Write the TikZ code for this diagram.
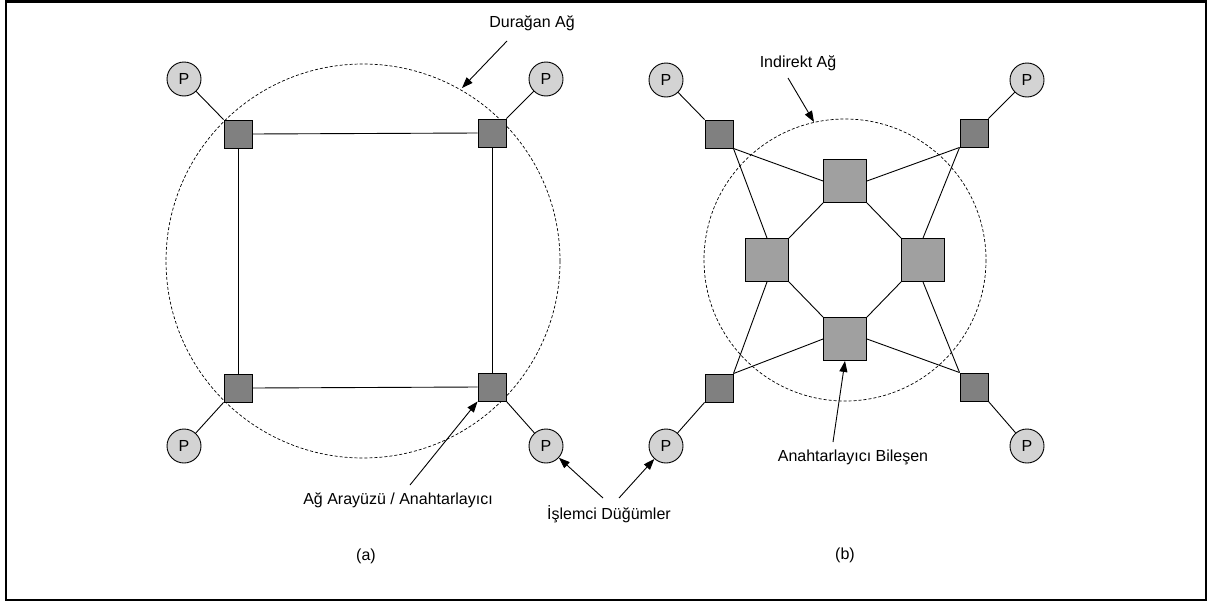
\documentclass[tikz,border=0pt]{standalone}
\usepackage{fontspec}
\setmainfont{Liberation Sans}
\usetikzlibrary{arrows.meta}
\definecolor{ifacegray}{HTML}{808080}
\definecolor{switchgray}{HTML}{A0A0A0}
\definecolor{procgray}{HTML}{D3D3D3}
\begin{document}
\begin{tikzpicture}[x=1pt,y=-1pt,
  every node/.style={font=\fontsize{16}{19}\selectfont},
  iface/.style={draw,line width=0.9pt,fill=ifacegray,minimum size=28pt,inner sep=0pt},
  switchbox/.style={draw,line width=0.9pt,fill=switchgray,minimum size=43pt,inner sep=0pt},
  proc/.style={draw,circle,line width=0.9pt,fill=procgray,minimum size=34pt,inner sep=0pt},
  link/.style={line width=0.9pt},
  ring/.style={dashed,dash pattern=on 3pt off 2pt,line width=0.7pt},
  callout/.style={line width=0.9pt,-{Triangle[length=11pt,width=8pt]}},
  caption/.style={inner sep=0pt}]
\useasboundingbox (0,0) rectangle (1214,605);
\draw[line width=2.5pt] (6,1.5) rectangle (1206,600);

% ---------- (a) direct network ----------
\draw[ring] (363,261) circle[radius=197];
\node[iface] (aS1) at (238,134) {};
\node[iface] (aS2) at (492,133) {};
\node[iface] (aS3) at (238,388) {};
\node[iface] (aS4) at (492,387) {};
\node[proc] (aP1) at (184,79) {P};
\node[proc] (aP2) at (546,79) {P};
\node[proc] (aP3) at (184,446) {P};
\node[proc] (aP4) at (546,446) {P};
\draw[link] (aS1.east) -- (aS2.west);
\draw[link] (aS3.east) -- (aS4.west);
\draw[link] (aS1.south) -- (aS3.north);
\draw[link] (aS2.south) -- (aS4.north);
\draw[link] (aP1) -- (aS1.north west);
\draw[link] (aP2) -- (aS2.north east);
\draw[link] (aP3) -- (aS3.south west);
\draw[link] (aP4) -- (aS4.south east);

% ---------- (b) indirect network ----------
\draw[ring] (845,260) circle[radius=141];
\node[iface] (bS1) at (719,134) {};
\node[iface] (bS2) at (974,133) {};
\node[iface] (bS3) at (719,388) {};
\node[iface] (bS4) at (974,387) {};
\node[switchbox] (bT) at (845,181) {};
\node[switchbox] (bL) at (767,260) {};
\node[switchbox] (bR) at (923,260) {};
\node[switchbox] (bB) at (845,339) {};
\node[proc] (bP1) at (666,80) {P};
\node[proc] (bP2) at (1027,80) {P};
\node[proc] (bP3) at (666,446) {P};
\node[proc] (bP4) at (1027,446) {P};
\draw[link] (bP1) -- (bS1.north west);
\draw[link] (bP2) -- (bS2.north east);
\draw[link] (bP3) -- (bS3.south west);
\draw[link] (bP4) -- (bS4.south east);
\draw[link] (bS1.south east) -- (bT.west);
\draw[link] (bS1.south east) -- (bL.north);
\draw[link] (bS2.south west) -- (bT.east);
\draw[link] (bS2.south west) -- (bR.north);
\draw[link] (bS3.north east) -- (bB.west);
\draw[link] (bS3.north east) -- (bL.south);
\draw[link] (bS4.north west) -- (bB.east);
\draw[link] (bS4.north west) -- (bR.south);
\draw[link] (bT.south west) -- (bL.north east);
\draw[link] (bT.south east) -- (bR.north west);
\draw[link] (bB.north west) -- (bL.south east);
\draw[link] (bB.north east) -- (bR.south west);

% ---------- labels and callouts ----------
\node[caption] (lDur) at (532,23) {Durağan Ağ};
\coordinate (cDur) at (507,41);
\coordinate (tDur) at (462,88);
\draw[callout] (cDur) -- (tDur);

\node[caption] (lInd) at (798,63) {Indirekt Ağ};
\coordinate (cInd) at (788,78);
\coordinate (tInd) at (814,122);
\draw[callout] (cInd) -- (tInd);

\node[caption] (lIface) at (398,500) {Ağ Arayüzü / Anahtarlayıcı};
\coordinate (cIface) at (410,485);
\draw[callout] (cIface) -- (aS4.south west);

\node[caption] (lProc) at (609,514) {İşlemci Düğümler};
\coordinate (cProcA) at (603,498);
\coordinate (cProcB) at (619,498);
\draw[callout] (cProcA) -- (aP4);
\draw[callout] (cProcB) -- (bP3);

\node[caption] (lSw) at (853,457) {Anahtarlayıcı Bileşen};
\coordinate (cSw) at (833,442);
\draw[callout] (cSw) -- (bB.south);

\node[caption] (capA) at (366,556) {(a)};
\node[caption] (capB) at (845,555) {(b)};
\end{tikzpicture}
\end{document}
